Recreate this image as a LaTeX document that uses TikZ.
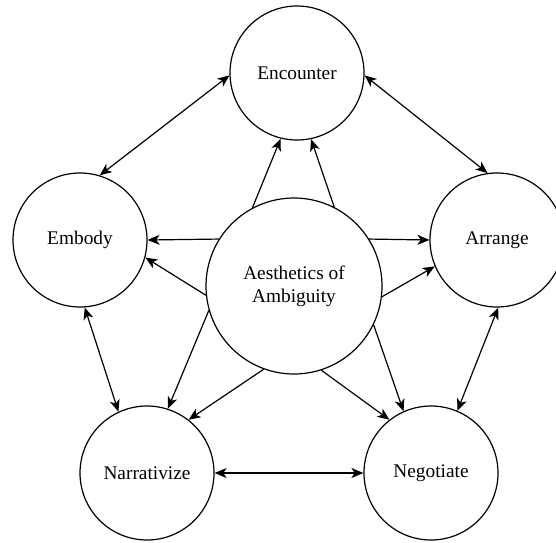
\documentclass[tikz,border=0pt]{standalone}
\usepackage{fontspec}
\setmainfont{Liberation Serif}
\usetikzlibrary{arrows.meta}
\begin{document}
\begin{tikzpicture}[x=0.75pt,y=0.75pt,yscale=-1,xscale=1,
    bubble/.style={draw, circle, line width=0.9pt, minimum size=100.5pt, inner sep=0pt, align=center, font=\fontsize{14.5}{17.5}\selectfont},
    tip/.style={line width=0.9pt, -{Stealth[length=9pt,width=7.5pt,inset=2.5pt]}},
    twotip/.style={line width=0.9pt, {Stealth[length=9pt,width=7.5pt,inset=2.5pt]}-{Stealth[length=9pt,width=7.5pt,inset=2.5pt]}}]
        \useasboundingbox (0,0) rectangle (556,542);
        % circles
        \draw (294,286) node [bubble, minimum size=132pt] (aes) {Aesthetics of\\Ambiguity};
        \draw (297,73) node [bubble] (enc) {Encounter};
        \draw (80,240) node [bubble] (emb) {Embody};
        \draw (497,240) node [bubble] (arr) {Arrange};
        \draw (147,473) node [bubble] (nar) {Narrativize};
        \draw (431,473) node [bubble] (neg) {Negotiate};
        % outer ring
        \draw [twotip] (emb.73) -- (enc.182);
        \draw [twotip] (enc.-2) -- (arr.98);
        \draw [twotip] (emb.274) -- (nar.115);
        \draw [twotip] (arr.271) -- (neg.67);
        \draw [twotip] (nar.east) -- (neg.west);
        % from the centre
        \draw [tip] (aes.118) -- (enc.256);
        \draw [tip] (aes.63) -- (enc.282);
        \draw [tip] (aes.148) -- (emb.east);
        \draw [tip] (aes.186) -- (emb.-15);
        \draw [tip] (aes.32) -- (arr.west);
        \draw [tip] (aes.-7) -- (arr.203);
        \draw [tip] (aes.196) -- (nar.72);
        \draw [tip] (aes.250) -- (nar.52);
        \draw [tip] (aes.288) -- (neg.128);
        \draw [tip] (aes.334) -- (neg.114);
\end{tikzpicture}
\end{document}
